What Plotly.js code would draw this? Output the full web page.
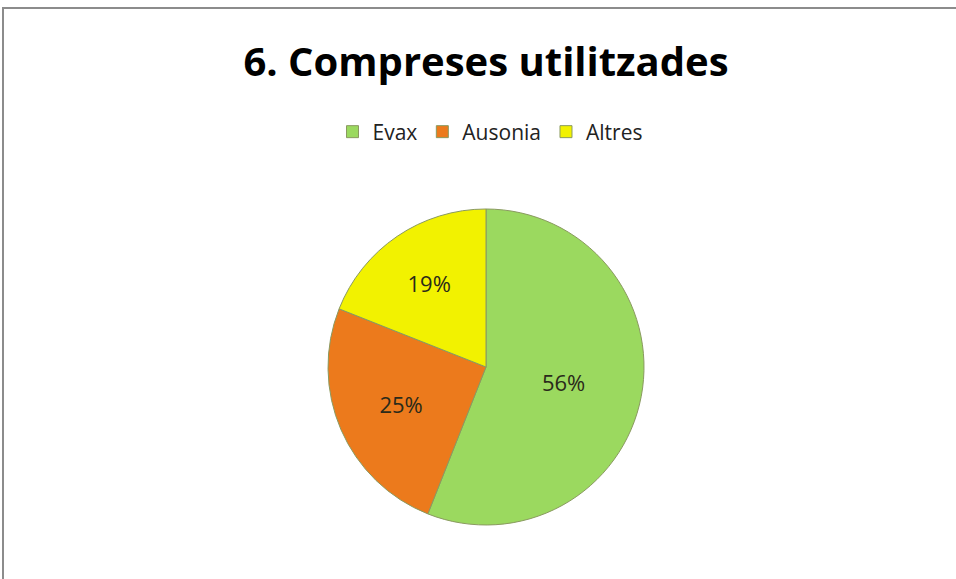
<!DOCTYPE html>
<html>
<head>
<meta charset="utf-8">
<script src="https://cdn.plot.ly/plotly-3.0.1.min.js"></script>
<style>html,body{margin:0;padding:0;background:#fff;}#chart{width:956px;height:579px;}</style>
</head>
<body>
<div id="chart"></div>
<script>
const categories = ["Evax", "Ausonia", "Altres"];
const values = [56, 25, 19];
const colors = ["#9bd95f", "#ec7a1c", "#f2f200"];

const W = 956, H = 579;
const trace = {
  type: "pie",
  labels: categories,
  values: values,
  sort: false,
  direction: "clockwise",
  rotation: 0,
  marker: {colors: colors, line: {color: "#8a9a60", width: 1}},
  textinfo: "percent",
  texttemplate: "%{percent:.0%}",
  textposition: "inside",
  insidetextorientation: "horizontal",
  textfont: {family: "Open Sans, Liberation Sans, sans-serif", size: 22, color: "#2a2a1a"},
  domain: {x: [328 / W, 644 / W], y: [1 - 525 / H, 1 - 209 / H]},
  hoverinfo: "label+percent"
};

const layout = {
  width: W, height: H,
  margin: {l: 0, r: 0, t: 0, b: 0},
  paper_bgcolor: "#ffffff",
  title: {
    text: "<b>6. Compreses utilitzades</b>",
    font: {family: "Open Sans, Liberation Sans, sans-serif", size: 40, color: "#000"},
    x: 486 / W, xanchor: "center",
    y: 1 - 62 / H, yanchor: "middle"
  },
  showlegend: true,
  legend: {
    orientation: "h",
    x: 490 / W, xanchor: "center",
    y: 1 - 132 / H, yanchor: "middle",
    font: {family: "Open Sans, Liberation Sans, sans-serif", size: 21, color: "#222"},
    itemwidth: 30,
    traceorder: "normal"
  },
  shapes: [{
    type: "rect", xref: "paper", yref: "paper",
    x0: 3 / W, x1: 1.02, y0: -0.02, y1: 1 - 8 / H,
    line: {color: "#8c8c8c", width: 2}
  }]
};

Plotly.newPlot("chart", [trace], layout, {displayModeBar: false, staticPlot: true});
</script>
</body>
</html>
